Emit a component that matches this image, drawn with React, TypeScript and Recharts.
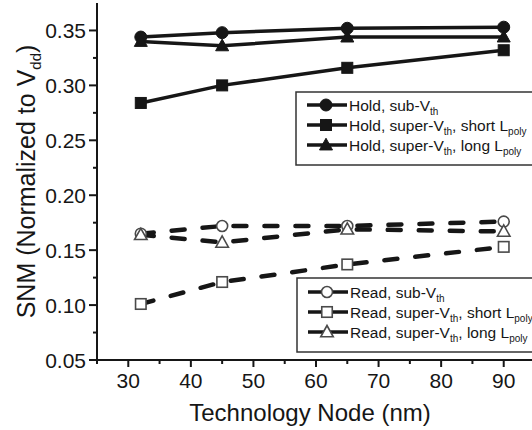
import React from 'react';
import { LineChart, Line, XAxis, YAxis, Legend } from 'recharts';

const nodes = [32, 45, 65, 90];
const holdSub = [0.344, 0.348, 0.352, 0.353];
const holdShort = [0.284, 0.3, 0.316, 0.332];
const holdLong = [0.34, 0.336, 0.344, 0.344];
const readSub = [0.165, 0.172, 0.172, 0.176];
const readShort = [0.101, 0.121, 0.137, 0.153];
const readLong = [0.164, 0.157, 0.169, 0.167];

const xTicks = [25, 30, 35, 40, 45, 50, 55, 60, 65, 70, 75, 80, 85, 90, 95];
const xMajorTicks = [30, 40, 50, 60, 70, 80, 90];
const yTicks = [0.05, 0.075, 0.1, 0.125, 0.15, 0.175, 0.2, 0.225, 0.25, 0.275, 0.3, 0.325, 0.35];
const yMajorTicks = [0.05, 0.1, 0.15, 0.2, 0.25, 0.3, 0.35];

const data = nodes.map((x, i) => ({
  x,
  holdSub: holdSub[i],
  holdShort: holdShort[i],
  holdLong: holdLong[i],
  readSub: readSub[i],
  readShort: readShort[i],
  readLong: readLong[i],
}));

const FONT = 'Arial, "Liberation Sans", Helvetica, sans-serif';
const INK = '#161616';

type Shape = 'circle' | 'square' | 'triangle';

const series = [
  { key: 'readSub', shape: 'circle' as Shape, filled: false, dashed: true, pre: 'Read, sub-V', sub: 'th', post: '', sub2: '' },
  { key: 'readShort', shape: 'square' as Shape, filled: false, dashed: true, pre: 'Read, super-V', sub: 'th', post: ', short L', sub2: 'poly' },
  { key: 'readLong', shape: 'triangle' as Shape, filled: false, dashed: true, pre: 'Read, super-V', sub: 'th', post: ', long L', sub2: 'poly' },
  { key: 'holdSub', shape: 'circle' as Shape, filled: true, dashed: false, pre: 'Hold, sub-V', sub: 'th', post: '', sub2: '' },
  { key: 'holdShort', shape: 'square' as Shape, filled: true, dashed: false, pre: 'Hold, super-V', sub: 'th', post: ', short L', sub2: 'poly' },
  { key: 'holdLong', shape: 'triangle' as Shape, filled: true, dashed: false, pre: 'Hold, super-V', sub: 'th', post: ', long L', sub2: 'poly' },
];

function Marker({ shape, filled, cx, cy }: { shape: Shape; filled: boolean; cx: number; cy: number }) {
  const fill = filled ? INK : '#fff';
  const stroke = filled ? INK : '#4a4a4a';
  const sw = filled ? 1 : 1.6;
  if (shape === 'circle') {
    const r = filled ? 6 : 5.5;
    return <circle cx={cx} cy={cy} r={r} fill={fill} stroke={stroke} strokeWidth={sw} />;
  }
  if (shape === 'square') {
    const s = filled ? 11 : 10.5;
    return <rect x={cx - s / 2} y={cy - s / 2} width={s} height={s} fill={fill} stroke={stroke} strokeWidth={sw} />;
  }
  const w = filled ? 13 : 12.5;
  const pts = `${cx},${cy - w * 0.52} ${cx - w / 2},${cy + w * 0.38} ${cx + w / 2},${cy + w * 0.38}`;
  return <polygon points={pts} fill={fill} stroke={stroke} strokeWidth={sw} strokeLinejoin="miter" />;
}

const XTick = (props: any) => {
  const { x, y, payload } = props;
  const major = xMajorTicks.includes(payload.value);
  return (
    <g>
      <line x1={x} y1={y} x2={x} y2={y + (major ? 7 : 4)} stroke={INK} strokeWidth={2} />
      {major && (
        <text x={x} y={y + 28} textAnchor="middle" fontSize={21} fontFamily={FONT} fill={INK}>
          {payload.value}
        </text>
      )}
    </g>
  );
};

const YTick = (props: any) => {
  const { x, y, payload } = props;
  const major = yMajorTicks.some((v) => Math.abs(v - payload.value) < 1e-9);
  return (
    <g>
      <line x1={x - (major ? 8 : 4)} y1={y} x2={x} y2={y} stroke={INK} strokeWidth={2} />
      {major && (
        <text x={x - 11} y={y} dy="0.36em" textAnchor="end" fontSize={21} fontFamily={FONT} fill={INK}>
          {Number(payload.value).toFixed(2)}
        </text>
      )}
    </g>
  );
};

const YLabel = (props: any) => {
  const vb = props.viewBox || {};
  const cy = (vb.y ?? 3) + (vb.height ?? 357) / 2;
  const cx = 35;
  return (
    <text x={cx} y={cy} textAnchor="middle" transform={`rotate(-90, ${cx}, ${cy})`} fontSize={25} fontFamily={FONT} fill={INK}>
      SNM (Normalized to V<tspan dy={6} fontSize={15}>dd</tspan><tspan dy={-6}>)</tspan>
    </text>
  );
};

const XLabel = (props: any) => {
  const vb = props.viewBox || {};
  const cx = (vb.x ?? 97) + (vb.width ?? 438) / 2;
  return (
    <text x={cx - 6} y={421} textAnchor="middle" fontSize={24} fontFamily={FONT} fill={INK}>
      Technology Node (nm)
    </text>
  );
};

function LegendBox({ x, y, h, rows, rowY }: { x: number; y: number; h: number; rows: typeof series; rowY: number[] }) {
  return (
    <g>
      <rect x={x} y={y} width={300} height={h} fill="#fff" stroke="#333" strokeWidth={1.5} />
      {rows.map((s, i) => {
        const ry = rowY[i];
        return (
          <g key={s.key}>
            <line x1={x + 11} y1={ry} x2={x + 51} y2={ry} stroke={INK} strokeWidth={3.5} />
            <Marker shape={s.shape} filled={s.filled} cx={x + 30} cy={ry} />
            <text x={x + 53} y={ry + 5.5} fontSize={15.5} fontFamily={FONT} fill={INK}>
              {s.pre}
              <tspan dy={4} fontSize={10}>{s.sub}</tspan>
              <tspan dy={-4}>{s.post}</tspan>
              {s.sub2 && <tspan dy={4} fontSize={10}>{s.sub2}</tspan>}
            </text>
          </g>
        );
      })}
    </g>
  );
}

const LegendContent = () => (
  <svg width={540} height={430} style={{ overflow: 'visible', display: 'block' }}>
    <LegendBox x={296} y={92} h={73} rows={series.filter((s) => !s.dashed)} rowY={[105, 125, 145]} />
    <LegendBox x={297} y={278} h={74} rows={series.filter((s) => s.dashed)} rowY={[292, 312, 332]} />
  </svg>
);

export default function App() {
  return (
    <div style={{ position: 'absolute', left: 0, top: 0, width: 532, height: 430, overflow: 'hidden', background: '#fff' }}>
      <LineChart width={540} height={430} data={data} margin={{ top: 3, right: 5, bottom: 0, left: 0 }}>
        <XAxis
          dataKey="x"
          type="number"
          domain={[25, 95]}
          ticks={xTicks}
          interval={0}
          tickSize={0}
          tickMargin={0}
          tickLine={false}
          tick={<XTick />}
          axisLine={{ stroke: INK, strokeWidth: 2 }}
          height={70}
          label={XLabel}
          allowDataOverflow
        />
        <YAxis
          type="number"
          domain={[0.05, 0.375]}
          ticks={yTicks}
          interval={0}
          tickSize={0}
          tickMargin={0}
          tickLine={false}
          tick={<YTick />}
          axisLine={{ stroke: INK, strokeWidth: 2 }}
          width={97}
          label={YLabel}
          allowDataOverflow
        />
        <Legend
          layout="vertical"
          align="center"
          verticalAlign="middle"
          content={LegendContent}
          wrapperStyle={{ position: 'absolute', left: 0, top: 0, width: 540, height: 430, pointerEvents: 'none' }}
        />
        {series.map((s) => (
          <Line
            key={s.key}
            dataKey={s.key}
            type="linear"
            stroke={INK}
            strokeWidth={s.dashed ? 4.5 : 3.5}
            strokeDasharray={s.dashed ? '13 18' : undefined}
            strokeLinecap={s.dashed ? 'round' : 'butt'}
            isAnimationActive={false}
            dot={(p: any) => <Marker key={`${s.key}-${p.index}`} shape={s.shape} filled={s.filled} cx={p.cx} cy={p.cy} />}
            activeDot={false}
          />
        ))}
      </LineChart>
    </div>
  );
}
